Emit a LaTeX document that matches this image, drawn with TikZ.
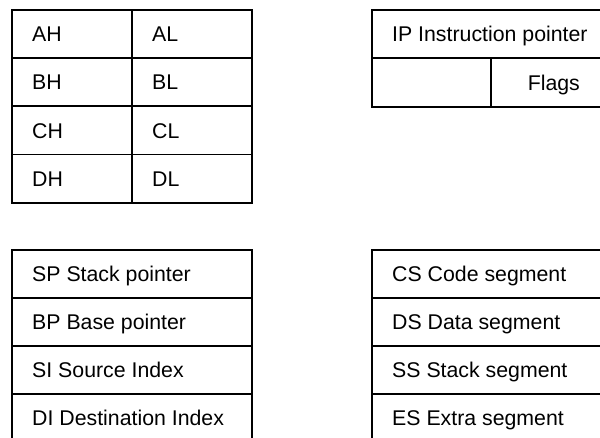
\documentclass[tikz,border=0pt]{standalone}
\usepackage{fontspec}
\setmainfont{Liberation Sans}
\begin{document}
\begin{tikzpicture}[x=1pt,y=-1pt,
  cell/.style={draw=black, line width=1.6pt, inner sep=0pt, anchor=north west},
  txt/.style={inner sep=0pt, anchor=base west, font=\fontsize{21.3pt}{25pt}\selectfont},
  ctxt/.style={inner sep=0pt, anchor=base, font=\fontsize{21.3pt}{25pt}\selectfont}]
\useasboundingbox (0,0) rectangle (600,438);
\clip (0,0) rectangle (600,438);
% top-left: 8-bit general registers
\node[cell, minimum width=120pt, minimum height=48.25pt] (cAH) at (11,9) {};
\node[cell, minimum width=120pt, minimum height=48.25pt] (cAL) at (131,9) {};
\node[cell, minimum width=120pt, minimum height=48.25pt] (cBH) at (11,57.25) {};
\node[cell, minimum width=120pt, minimum height=48.25pt] (cBL) at (131,57.25) {};
\node[cell, minimum width=120pt, minimum height=48.25pt] (cCH) at (11,105.5) {};
\node[cell, minimum width=120pt, minimum height=48.25pt] (cCL) at (131,105.5) {};
\node[cell, minimum width=120pt, minimum height=48.25pt] (cDH) at (11,153.75) {};
\node[cell, minimum width=120pt, minimum height=48.25pt] (cDL) at (131,153.75) {};
\foreach \n in {AH,AL,BH,BL,CH,CL,DH,DL}
  \node[txt] (t\n) at ([xshift=21pt,yshift=-7.6pt]c\n.west) {\n};
% top-right: IP and flags
\node[cell, minimum width=245pt, minimum height=48.5pt] (cIP) at (371,9) {};
\node[cell, minimum width=119pt, minimum height=48.5pt] (cFe) at (371,57.5) {};
\node[cell, minimum width=126pt, minimum height=48.5pt] (cFl) at (490,57.5) {};
\node[txt] (tIP) at ([xshift=21pt,yshift=-7.6pt]cIP.west) {IP Instruction pointer};
\node[ctxt] (tFl) at ([yshift=-7.6pt]cFl.center) {Flags};
% bottom-left: pointer and index registers
\node[cell, minimum width=240pt, minimum height=48pt] (cSP) at (11,249) {};
\node[cell, minimum width=240pt, minimum height=48pt] (cBP) at (11,297) {};
\node[cell, minimum width=240pt, minimum height=48pt] (cSI) at (11,345) {};
\node[cell, minimum width=240pt, minimum height=48pt] (cDI) at (11,393) {};
\node[txt] (tSP) at ([xshift=21pt,yshift=-7.6pt]cSP.west) {SP Stack pointer};
\node[txt] (tBP) at ([xshift=21pt,yshift=-7.6pt]cBP.west) {BP Base pointer};
\node[txt] (tSI) at ([xshift=21pt,yshift=-7.6pt]cSI.west) {SI Source Index};
\node[txt] (tDI) at ([xshift=21pt,yshift=-7.6pt]cDI.west) {DI Destination Index};
% bottom-right: segment registers
\node[cell, minimum width=245pt, minimum height=48pt] (cCS) at (371,249) {};
\node[cell, minimum width=245pt, minimum height=48pt] (cDS) at (371,297) {};
\node[cell, minimum width=245pt, minimum height=48pt] (cSS) at (371,345) {};
\node[cell, minimum width=245pt, minimum height=48pt] (cES) at (371,393) {};
\node[txt] (tCS) at ([xshift=21pt,yshift=-7.6pt]cCS.west) {CS Code segment};
\node[txt] (tDS) at ([xshift=21pt,yshift=-7.6pt]cDS.west) {DS Data segment};
\node[txt] (tSS) at ([xshift=21pt,yshift=-7.6pt]cSS.west) {SS Stack segment};
\node[txt] (tES) at ([xshift=21pt,yshift=-7.6pt]cES.west) {ES Extra segment};
\end{tikzpicture}
\end{document}
